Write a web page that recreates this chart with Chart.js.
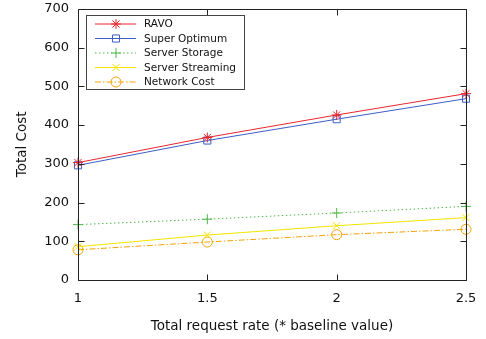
<!DOCTYPE html>
<html>
<head>
<meta charset="utf-8">
<script src="https://cdn.jsdelivr.net/npm/chart.js@4/dist/chart.umd.min.js"></script>
<style>
  html, body { margin: 0; padding: 0; background: #fff; }
  #wrap { width: 486px; height: 339px; }
</style>
</head>
<body>
<div id="wrap"><canvas id="myChart" width="486" height="339"></canvas></div>
<script>
const xValues = [1, 1.5, 2, 2.5];
const ravo = [303, 368, 426, 481];
const superOptimum = [296, 360, 415, 468];
const serverStorage = [143, 157, 173, 190];
const serverStreaming = [86, 116, 140, 161];
const networkCost = [78, 98, 117, 131];
const xTicks = [1, 1.5, 2, 2.5];
const yTicks = [0, 100, 200, 300, 400, 500, 600, 700];

const FONT = "'DejaVu Sans', Verdana, sans-serif";

const series = [
    { label: "RAVO", data: ravo, color: "#e8262e", style: "star", dash: [] },
    { label: "Super Optimum", data: superOptimum, color: "#3b5fc4", style: "rect", dash: [] },
    { label: "Server Storage", data: serverStorage, color: "#4cb848", style: "cross", dash: [1.5, 2.5] },
    { label: "Server Streaming", data: serverStreaming, color: "#f2e400", style: "crossRot", dash: [] },
    { label: "Network Cost", data: networkCost, color: "#f5a20a", style: "circle", dash: [6, 2, 1.5, 2] },
];

const ctx = document.getElementById("myChart");

// frame, inward ticks and legend box like the gnuplot original
const framePlugin = {
    id: "frame",
    afterDraw(chart) {
        const c = chart.ctx;
        const a = chart.chartArea;
        const xs = chart.scales.x;
        const ys = chart.scales.y;
        const L = Math.round(a.left) + 0.5;
        const R = Math.round(a.right) + 0.5;
        const T = Math.round(a.top) + 0.5;
        const B = Math.round(a.bottom) + 0.5;
        c.save();
        c.globalAlpha = 1;
        c.strokeStyle = "#222222";
        c.lineWidth = 1;
        c.setLineDash([]);
        c.beginPath();
        c.moveTo(L, T); c.lineTo(R, T); c.lineTo(R, B); c.lineTo(L, B); c.closePath();
        yTicks.forEach((v) => {
            const y = Math.round(ys.getPixelForValue(v)) + 0.5;
            c.moveTo(L, y); c.lineTo(L + 6, y);
            c.moveTo(R, y); c.lineTo(R - 6, y);
        });
        xTicks.forEach((v) => {
            const x = Math.round(xs.getPixelForValue(v)) + 0.5;
            c.moveTo(x, B); c.lineTo(x, B - 6);
            c.moveTo(x, T); c.lineTo(x, T + 6);
        });
        c.stroke();

        // legend
        const bx = 86.5, by = 15.5, bw = 158, bh = 74;
        c.fillStyle = "#fff";
        c.fillRect(bx, by, bw, bh);
        c.strokeStyle = "#444";
        c.strokeRect(bx, by, bw, bh);
        c.font = "10.5px " + FONT;
        c.textBaseline = "middle";
        series.forEach((s, i) => {
            const y = 24 + i * 14.5;
            c.strokeStyle = s.color;
            c.lineWidth = 1;
            c.setLineDash(s.dash);
            c.beginPath();
            c.moveTo(95, y); c.lineTo(136, y);
            c.stroke();
            c.setLineDash([]);
            c.fillStyle = "rgba(0,0,0,0)";
            Chart.helpers.drawPoint(c, { pointStyle: s.style, radius: 5, borderWidth: 1 }, 116, y);
            c.fillStyle = "#111";
            c.fillText(s.label, 144, y + 0.5);
        });
        c.restore();
    },
};

new Chart(ctx, {
    type: "line",
    data: {
        datasets: series.map((s) => ({
            label: s.label,
            data: s.data.map((v, i) => ({ x: xValues[i], y: v })),
            borderColor: s.color,
            backgroundColor: "transparent",
            borderWidth: 1,
            borderDash: s.dash,
            pointStyle: s.style,
            pointRadius: 5,
            pointBorderWidth: 1,
            pointBorderColor: s.color,
            pointBackgroundColor: "transparent",
            tension: 0,
            clip: false,
        })),
    },
    options: {
        responsive: false,
        animation: false,
        layout: { padding: { top: 6, right: 20, left: 0, bottom: 0 } },
        plugins: {
            legend: { display: false },
            tooltip: { enabled: false },
        },
        scales: {
            x: {
                type: "linear",
                min: 1,
                max: 2.5,
                afterBuildTicks: (scale) => { scale.ticks = xTicks.map((v) => ({ value: v })); },
                afterFit: (scale) => { scale.height = 59; },
                grid: { display: false },
                border: { display: false },
                ticks: {
                    color: "#111",
                    font: { family: FONT, size: 13 },
                    padding: 3,
                    maxRotation: 0,
                    callback: (v) => String(v),
                },
                title: {
                    display: true,
                    text: "Total request rate (* baseline value)",
                    color: "#111",
                    font: { family: FONT, size: 13.5 },
                    padding: { top: 6 },
                },
            },
            y: {
                min: 0,
                max: 700,
                afterBuildTicks: (scale) => { scale.ticks = yTicks.map((v) => ({ value: v })); },
                afterFit: (scale) => { scale.width = 78; },
                grid: { display: false },
                border: { display: false },
                ticks: {
                    color: "#111",
                    font: { family: FONT, size: 13 },
                    padding: 1,
                },
                title: {
                    display: true,
                    text: "Total Cost",
                    color: "#111",
                    font: { family: FONT, size: 13.5 },
                    padding: { top: 14, bottom: 0 },
                },
            },
        },
    },
    plugins: [framePlugin],
});
</script>
</body>
</html>
